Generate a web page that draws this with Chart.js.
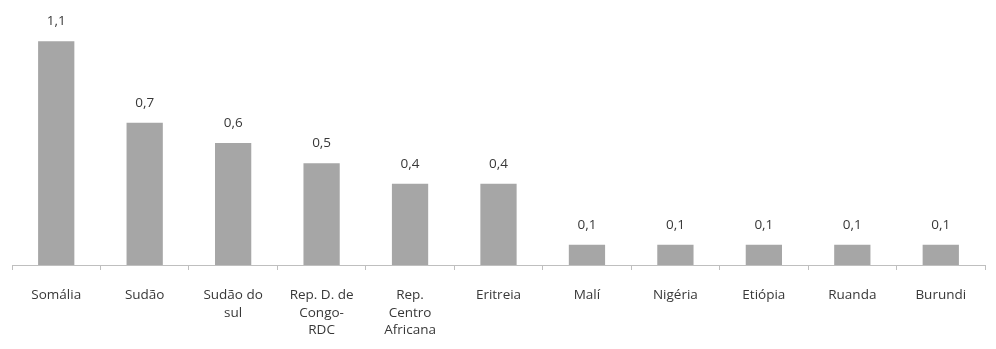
<!DOCTYPE html>
<html>
<head>
<meta charset="utf-8">
<script src="https://cdn.jsdelivr.net/npm/chart.js@4"></script>
<style>
  html, body { margin: 0; padding: 0; background: #fff; }
  #wrap { width: 996px; height: 349px; }
</style>
</head>
<body>
<div id="wrap"><canvas id="chart" width="996" height="349"></canvas></div>
<script>
const countries = [
  "Somália",
  "Sudão",
  ["Sudão do", "sul"],
  ["Rep. D. de", "Congo-", "RDC"],
  ["Rep.", "Centro", "Africana"],
  "Eritreia",
  "Malí",
  "Nigéria",
  "Etiópia",
  "Ruanda",
  "Burundi",
];
const values = [1.1, 0.7, 0.6, 0.5, 0.4, 0.4, 0.1, 0.1, 0.1, 0.1, 0.1];

const fontFamily = "'Open Sans', Lato, sans-serif";

// value labels above each bar, decimal comma
const valueLabels = {
  id: "valueLabels",
  afterDatasetsDraw(chart) {
    const ctx = chart.ctx;
    const meta = chart.getDatasetMeta(0);
    ctx.save();
    ctx.font = "13.5px " + fontFamily;
    ctx.fillStyle = "#383838";
    ctx.textAlign = "center";
    ctx.textBaseline = "middle";
    meta.data.forEach((bar, i) => {
      const txt = values[i].toFixed(1).replace(".", ",");
      ctx.fillText(txt, bar.x, bar.y - 20);
    });
    ctx.restore();
  },
};

const chart = new Chart(document.getElementById("chart").getContext("2d"), {
  type: "bar",
  data: {
    labels: countries,
    datasets: [
      {
        data: values,
        backgroundColor: "#a6a6a6",
        barPercentage: 0.41,
        categoryPercentage: 1,
      },
    ],
  },
  options: {
    responsive: false,
    animation: false,
    layout: {
      padding: { left: 12, right: 11, top: 21, bottom: 0 },
    },
    plugins: {
      legend: { display: false },
      tooltip: { enabled: false },
    },
    scales: {
      y: {
        display: false,
        min: 0,
        max: 1.2,
      },
      x: {
        afterFit: (scale) => {
          scale.height = 84;
        },
        border: { color: "#bfbfbf", width: 1 },
        grid: {
          offset: true,
          drawOnChartArea: false,
          drawTicks: true,
          tickLength: 5,
          color: "#bfbfbf",
        },
        ticks: {
          autoSkip: false,
          maxRotation: 0,
          padding: 16,
          color: "#383838",
          font: { family: fontFamily, size: 13.5, lineHeight: 1.32 },
        },
      },
    },
  },
  plugins: [valueLabels],
});
</script>
</body>
</html>
